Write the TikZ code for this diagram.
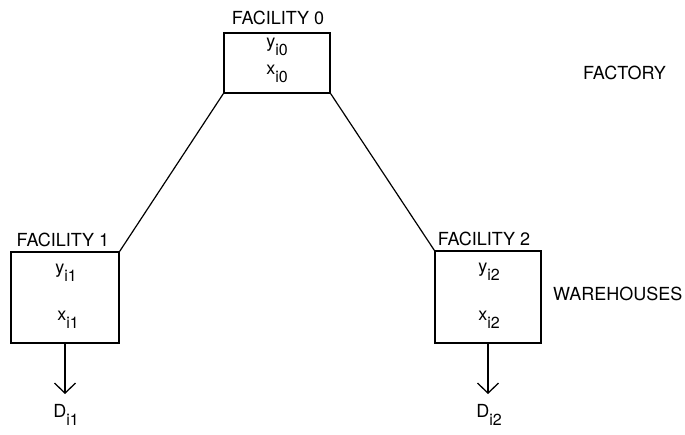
\documentclass[tikz,border=0pt]{standalone}
\usepackage{fontspec}
\setmainfont{TeX Gyre Heros}
\usetikzlibrary{arrows.meta}
\newcommand{\sbs}[2]{#1\raisebox{-0.42em}{\fontsize{16}{16}\selectfont #2}}
\begin{document}
\begin{tikzpicture}[x=1pt,y=-1pt,
  every node/.style={font=\fontsize{18}{18}\selectfont, inner sep=0pt},
  facbox/.style={draw, line width=1.4pt, minimum width=#1, anchor=center},
  link/.style={line width=1.2pt},
  demand/.style={line width=1.2pt, -{Straight Barb[length=10pt,width=21pt,line width=1.3pt]}}]
\useasboundingbox (0,0) rectangle (685,435);

% factory
\node[facbox=106pt, minimum height=60pt] (f0) at (277,63) {};
\node (t0) at (278,18) {FACILITY 0};
\node (y0) at (277,47) {\sbs{y}{i0}};
\node (x0) at (277,74) {\sbs{x}{i0}};
\node[anchor=west] (factory) at (583,73) {FACTORY};

% warehouses
\node[facbox=108pt, minimum height=91pt] (f1) at (65,297.5) {};
\node (t1) at (63,240) {FACILITY 1};
\node (y1) at (66,273) {\sbs{y}{i1}};
\node (x1) at (68,320) {\sbs{x}{i1}};

\node[facbox=106pt, minimum height=92pt] (f2) at (488,297) {};
\node (t2) at (484,239) {FACILITY 2};
\node (y2) at (489,272) {\sbs{y}{i2}};
\node (x2) at (489,320) {\sbs{x}{i2}};
\node[anchor=west] (wh) at (553,294) {WAREHOUSES};

% links from the factory to the warehouses
\draw[link] (f0.south west) -- (f1.north east);
\draw[link] (f0.south east) -- (f2.north west);

% demand arrows
\coordinate (e1) at (65,394);
\coordinate (e2) at (488,394);
\draw[demand] (f1.south) -- (e1);
\draw[demand] (f2.south) -- (e2);
\node (d1) at (66,415) {\sbs{D}{i1}};
\node (d2) at (489,415) {\sbs{D}{i2}};
\end{tikzpicture}
\end{document}
